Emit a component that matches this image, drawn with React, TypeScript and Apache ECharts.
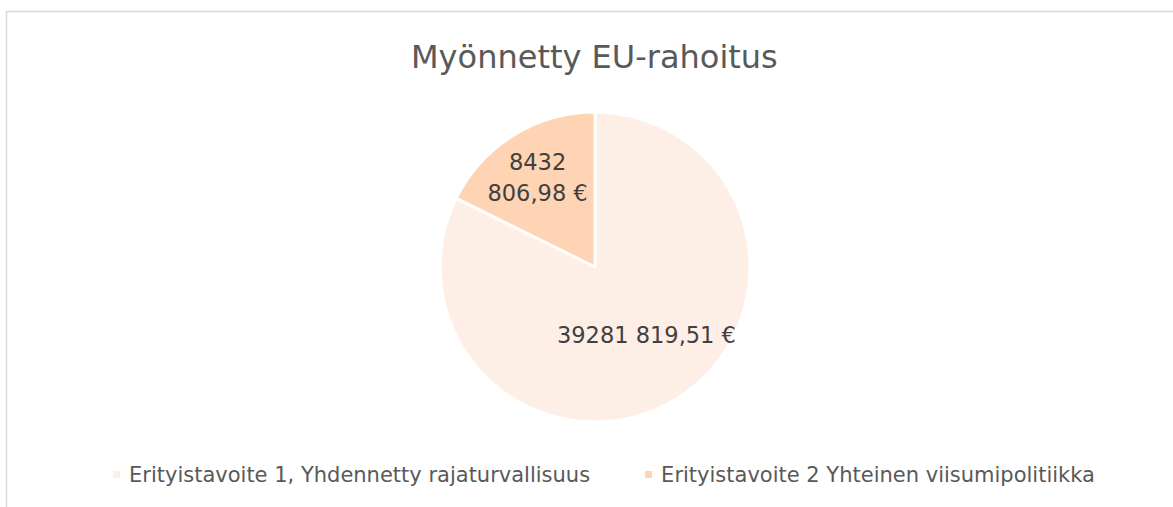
import React, { useEffect, useRef } from "react";
import * as echarts from "echarts";

const titleText = "Myönnetty EU-rahoitus";
const categories = [
  "Erityistavoite 1, Yhdennetty rajaturvallisuus",
  "Erityistavoite 2 Yhteinen viisumipolitiikka",
];
const values = [39281819.51, 8432806.98];
const colors = ["#FEEFE6", "#FFD4B4"];

function formatEuro(v: number, wrap: boolean): string {
  const [intPart, dec] = v.toFixed(2).split(".");
  const head = intPart.slice(0, -3);
  const tail = intPart.slice(-3);
  return `${head}${wrap ? "\n" : " "}${tail},${dec} €`;
}

export default function App() {
  const ref = useRef<HTMLDivElement>(null);
  useEffect(() => {
    if (!ref.current) return;
    const chart = echarts.init(ref.current, null, { renderer: "svg" });
    const font = "'DejaVu Sans', Verdana, sans-serif";
    const labelOffsets = [
      [9, 0],
      [-15, -21],
    ];
    chart.setOption({
      animation: false,
      backgroundColor: "#ffffff",
      textStyle: { fontFamily: font },
      title: {
        text: titleText,
        left: 406,
        top: 36,
        textStyle: {
          fontFamily: font,
          fontSize: 32,
          fontWeight: "normal",
          color: "#595959",
        },
      },
      legend: {
        bottom: 17,
        left: 106,
        itemWidth: 9,
        itemHeight: 9,
        itemGap: 53,
        icon: "rect",
        textStyle: { fontFamily: font, fontSize: 21, color: "#595959", padding: [0, 0, 0, 3] },
        data: categories,
      },
      graphic: [
        {
          type: "rect",
          shape: { x: 6.5, y: 11.5, width: 1300, height: 700 },
          style: { fill: "none", stroke: "#D9D9D9", lineWidth: 1.5 },
          silent: true,
        },
      ],
      series: [
        {
          type: "pie",
          center: [595, 267],
          radius: [0, 155],
          startAngle: 90,
          clockwise: true,
          itemStyle: { borderColor: "#ffffff", borderWidth: 3 },
          labelLine: { show: false },
          emphasis: { disabled: true },
          data: categories.map((name, i) => ({
            name,
            value: values[i],
            itemStyle: { color: colors[i] },
            label: {
              show: true,
              position: "inside",
              formatter: (p: any) => formatEuro(p.value, i === 1),
              fontFamily: font,
              fontSize: 22.5,
              color: "#404040",
              lineHeight: 31,
              align: "center",
              offset: labelOffsets[i],
            },
          })),
        },
      ],
    });
    return () => chart.dispose();
  }, []);
  return (
    <div
      ref={ref}
      style={{ position: "fixed", left: 0, top: 0, width: 1173, height: 507 }}
    />
  );
}
